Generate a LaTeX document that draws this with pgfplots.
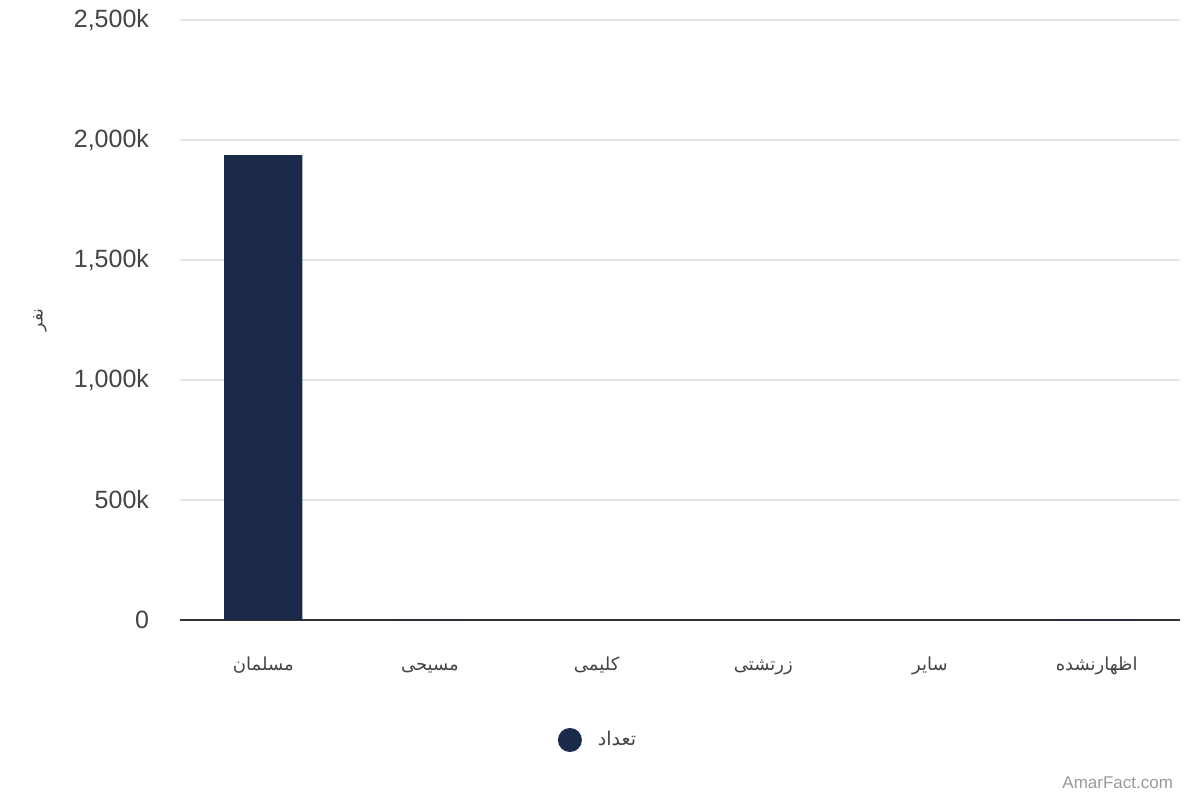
\documentclass[border=0pt]{standalone}
\usepackage{pgfplots}
\pgfplotsset{compat=1.18}
\usepackage{fontspec}
\setmainfont{Liberation Sans}
\newfontfamily\arabicfont[Script=Arabic]{DejaVu Sans}
\TeXXeTstate=1
\definecolor{barblue}{HTML}{1B2A4A}
\definecolor{gridgray}{HTML}{E5E5E5}
\definecolor{txt}{HTML}{444444}
\begin{document}
\begin{tikzpicture}[x=1pt,y=1pt]
\useasboundingbox (-90pt,-90pt) rectangle (510pt,310pt);
\begin{axis}[
  at={(0,0)}, anchor=south west,
  scale only axis, width=500pt, height=300pt,
  xmin=-0.5, xmax=5.5, ymin=0, ymax=2500000,
  xtick={0,1,2,3,4,5},
  xticklabels={{\arabicfont\beginR مسلمان\endR},{\arabicfont\beginR مسیحی\endR},{\arabicfont\beginR کلیمی\endR},{\arabicfont\beginR زرتشتی\endR},{\arabicfont\beginR سایر\endR},{\arabicfont\beginR اظهارنشده\endR}},
  ytick={0,500000,1000000,1500000,2000000,2500000},
  yticklabels={0,500k,{1,000k},{1,500k},{2,000k},{2,500k}},
  scaled ticks=false,
  axis x line*=bottom, axis y line*=left,
  x axis line style={draw=black!80, line width=1pt, -},
  y axis line style={draw=none},
  ymajorgrids, grid style={gridgray, line width=0.6pt},
  major tick length=0pt,
  tick style={draw=none},
  xticklabel style={font=\fontsize{9}{10}\selectfont, text=txt, anchor=base, yshift=-25pt},
  yticklabel style={font=\fontsize{12.5}{14}\selectfont, text=txt, anchor=east, xshift=-12pt},
  ybar, bar width=0.47, bar shift=0pt,
  legend style={draw=none, at={(0.425,-0.2)}, anchor=center, font=\fontsize{9.5}{11}\selectfont, text=txt,
    nodes={inner xsep=8pt}},
  legend image code/.code={\fill[barblue] (0pt,0pt) circle (6pt);},
  clip=false,
]
\addplot[fill=barblue, draw=none] coordinates {(0,1937000) (1,2000) (2,300) (3,500) (4,1000) (5,3000)};
\addlegendentry{\arabicfont\beginR تعداد\endR}
\end{axis}
\node[rotate=90, font=\fontsize{8.5}{10}\selectfont, text=txt] at (-70pt,150pt) {\arabicfont\beginR نفر\endR};
\node[anchor=east, font=\fontsize{8.5}{10}\selectfont, text=black!40] at (500pt,-81.5pt) {AmarFact.com};
\end{tikzpicture}
\end{document}
